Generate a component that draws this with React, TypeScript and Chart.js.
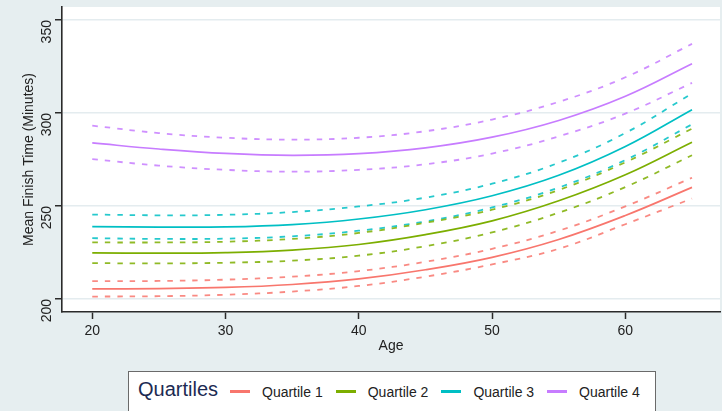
import React, { useEffect, useRef } from "react";
import { Chart, registerables } from "chart.js";

Chart.register(...registerables);

// ---- data ----
const ages = [20, 25, 30, 35, 40, 45, 50, 55, 60, 65];

const q1Mean = [205.4, 205.6, 206.2, 207.8, 210.8, 215.7, 222.4, 232.0, 244.9, 260.0];
const q1Upper = [209.6, 209.7, 210.4, 212.0, 215.0, 220.0, 227.0, 236.7, 249.8, 265.2];
const q1Lower = [201.3, 201.5, 202.3, 204.0, 207.0, 212.0, 218.6, 227.0, 240.2, 254.0];

const q2Mean = [224.8, 224.65, 224.95, 226.3, 229.3, 234.6, 242.0, 252.8, 266.8, 284.3];
const q2Upper = [230.4, 230.4, 230.8, 232.3, 235.5, 241.0, 248.0, 258.6, 273.5, 291.6];
const q2Lower = [219.3, 219.1, 219.5, 220.6, 223.3, 228.4, 235.8, 246.4, 260.2, 277.3];

const q3Mean = [238.9, 238.65, 238.75, 240.0, 243.0, 248.0, 255.5, 266.5, 282.0, 301.8];
const q3Upper = [245.4, 245.0, 245.25, 246.75, 249.75, 254.5, 262.0, 273.25, 289.25, 310.5];
const q3Lower = [232.7, 232.3, 232.45, 233.7, 236.7, 241.7, 249.2, 259.9, 274.7, 293.9];

const q4Mean = [283.9, 280.65, 278.25, 277.25, 278.15, 281.25, 287.0, 296.0, 309.0, 326.5];
const q4Upper = [293.2, 289.2, 286.7, 285.7, 286.7, 290.2, 296.5, 306.0, 319.2, 337.2];
const q4Lower = [275.2, 271.7, 269.45, 268.45, 269.45, 272.45, 278.2, 287.45, 299.7, 316.2];

const quartileLabels = ["Quartile 1", "Quartile 2", "Quartile 3", "Quartile 4"];
const quartileColors = ["#F8766D", "#7CAE00", "#00BFC4", "#C77CFF"];
const meanSeries = [q1Mean, q2Mean, q3Mean, q4Mean];
const upperSeries = [q1Upper, q2Upper, q3Upper, q4Upper];
const lowerSeries = [q1Lower, q2Lower, q3Lower, q4Lower];

const xTicks = [20, 30, 40, 50, 60];
const yTicks = [200, 250, 300, 350];

const legendTitle = "Quartiles";
const xTitle = "Age";
const yTitle = "Mean Finish Time (Minutes)";

// ---- styles ----
const BG = "#E6EEF0";
const GRID = "#E4ECEF";
const AXIS = "#2a2a2a";
const TEXT = "#222222";
const FONT = "'Liberation Sans', Arial, Helvetica, sans-serif";

function withAlpha(hex: string, a: number) {
  const n = parseInt(hex.slice(1), 16);
  return `rgba(${(n >> 16) & 255}, ${(n >> 8) & 255}, ${n & 255}, ${a})`;
}

const toPoints = (ys: number[]) => ages.map((x, i) => ({ x, y: ys[i] }));

const bgPlugin = {
  id: "bgPlugin",
  beforeDraw(chart: any) {
    const { ctx, chartArea: a, width, height } = chart;
    ctx.save();
    ctx.fillStyle = BG;
    ctx.fillRect(0, 0, width, height);
    ctx.fillStyle = "#ffffff";
    ctx.fillRect(a.left, a.top, a.right - a.left, a.bottom - a.top);
    ctx.restore();
  },
};

export default function App() {
  const canvasRef = useRef<HTMLCanvasElement | null>(null);

  useEffect(() => {
    const canvas = canvasRef.current;
    if (!canvas) return;

    const datasets: any[] = [];
    quartileLabels.forEach((label, i) => {
      const c = quartileColors[i];
      datasets.push({
        label: label,
        data: toPoints(meanSeries[i]),
        borderColor: c,
        borderWidth: 1.7,
        pointRadius: 0,
        fill: false,
        tension: 0.4,
      });
      datasets.push({
        label: label + " upper",
        data: toPoints(upperSeries[i]),
        borderColor: withAlpha(c, 0.85),
        borderWidth: 1.8,
        borderDash: [5.5, 7],
        pointRadius: 0,
        fill: false,
        tension: 0.4,
      });
      datasets.push({
        label: label + " lower",
        data: toPoints(lowerSeries[i]),
        borderColor: withAlpha(c, 0.85),
        borderWidth: 1.8,
        borderDash: [5.5, 7],
        pointRadius: 0,
        fill: false,
        tension: 0.4,
      });
    });

    const chart = new Chart(canvas, {
      type: "line",
      data: { datasets },
      plugins: [bgPlugin],
      options: {
        animation: false,
        responsive: false,
        devicePixelRatio: 1,
        layout: { padding: { top: 7, right: 2, left: 0, bottom: 0 } },
        plugins: {
          legend: { display: false },
          tooltip: { enabled: false },
        },
        scales: {
          x: {
            type: "linear",
            min: 17.73,
            max: 67.1,
            afterBuildTicks: (s: any) => {
              s.ticks = xTicks.map((v) => ({ value: v }));
            },
            afterFit: (s: any) => {
              s.height = 99;
              s.paddingLeft = 0;
              s.paddingRight = 0;
            },
            grid: {
              drawOnChartArea: false,
              drawTicks: true,
              tickLength: 7,
              tickColor: AXIS,
              tickWidth: 1.5,
            },
            border: { display: true, color: AXIS, width: 1.6 },
            ticks: {
              color: TEXT,
              font: { family: FONT, size: 14 },
              padding: 4,
              maxRotation: 0,
              minRotation: 0,
            },
            title: {
              display: true,
              text: xTitle,
              color: TEXT,
              font: { family: FONT, size: 14 },
              padding: { top: 0, bottom: 56 },
            },
          },
          y: {
            type: "linear",
            min: 193,
            max: 357,
            afterBuildTicks: (s: any) => {
              s.ticks = yTicks.map((v) => ({ value: v }));
            },
            afterFit: (s: any) => {
              s.width = 62;
              s.paddingTop = 0;
              s.paddingBottom = 0;
            },
            grid: {
              color: GRID,
              lineWidth: 1.5,
              drawTicks: true,
              tickLength: 7,
              tickColor: AXIS,
              tickWidth: 1.5,
            },
            border: { display: true, color: AXIS, width: 1.6 },
            ticks: {
              color: TEXT,
              font: { family: FONT, size: 14 },
              padding: 8,
              minRotation: 90,
              maxRotation: 90,
            },
            title: {
              display: true,
              text: yTitle,
              color: TEXT,
              font: { family: FONT, size: 14 },
              padding: { top: 21, bottom: 0 },
            },
          },
        },
      },
    } as any);

    return () => chart.destroy();
  }, []);

  return (
    <div
      style={{
        position: "fixed",
        left: 0,
        top: 0,
        width: 722,
        height: 411,
        overflow: "hidden",
        background: BG,
      }}
    >
      <canvas
        ref={canvasRef}
        width={722}
        height={411}
        style={{ position: "absolute", left: 0, top: 0, width: 722, height: 411 }}
      />
      <div
        style={{
          position: "absolute",
          left: 128,
          top: 371,
          width: 528,
          height: 60,
          boxSizing: "border-box",
          border: "1px solid #6a6a6a",
          background: "#ffffff",
          fontFamily: FONT,
        }}
      >
        <div
          style={{
            position: "absolute",
            left: 9,
            top: 7,
            fontSize: 20,
            lineHeight: "20px",
            color: "#1c2a52",
            whiteSpace: "nowrap",
          }}
        >
          {legendTitle}
        </div>
        <div
          style={{
            position: "absolute",
            left: 101,
            top: 13,
            height: 14,
            display: "flex",
            alignItems: "center",
            whiteSpace: "nowrap",
          }}
        >
          {quartileLabels.map((label, i) => (
            <div key={label} style={{ display: "flex", alignItems: "center", marginRight: 13 }}>
              <div
                style={{
                  width: 20,
                  height: 3,
                  background: quartileColors[i],
                  marginRight: 12,
                  position: "relative",
                  top: -1,
                }}
              />
              <span style={{ fontSize: 14, lineHeight: "14px", color: TEXT }}>{label}</span>
            </div>
          ))}
        </div>
      </div>
    </div>
  );
}
